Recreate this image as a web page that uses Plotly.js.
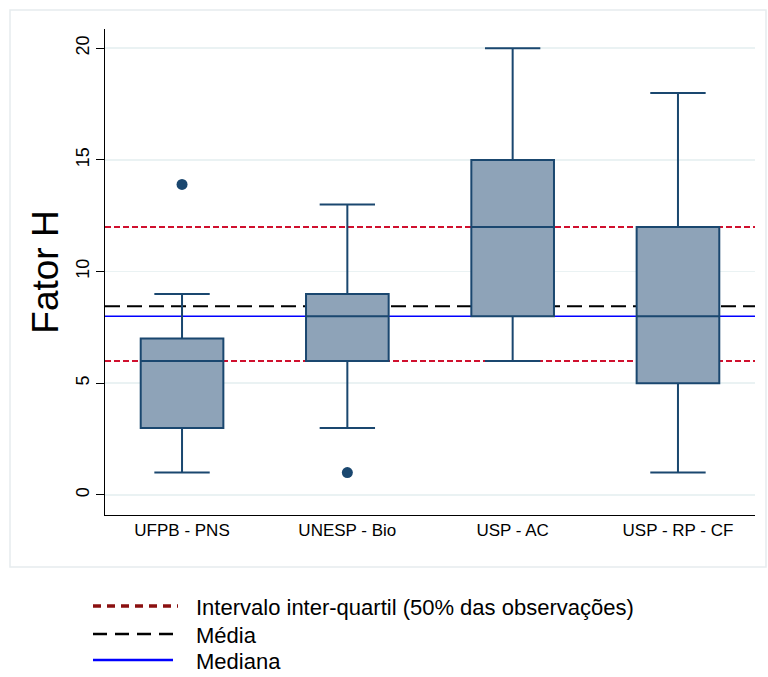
<!DOCTYPE html>
<html>
<head>
<meta charset="utf-8">
<script src="https://cdn.plot.ly/plotly-3.0.1.min.js"></script>
<style>html,body{margin:0;padding:0;background:#fff;}#chart{width:768px;height:677px;}</style>
</head>
<body>
<div id="chart"></div>
<script>
// ---- data ----
var categories = ['UFPB - PNS', 'UNESP - Bio', 'USP - AC', 'USP - RP - CF'];
var lowerWhisker = [1, 3, 6, 1];
var q1Values = [3, 6, 8, 5];
var medianValues = [6, 8, 12, 8];
var q3Values = [7, 9, 15, 12];
var upperWhisker = [9, 13, 20, 18];
var outlierCategories = ['UFPB - PNS', 'UNESP - Bio'];
var outlierValues = [13.9, 1];
var iqrLow = 6;
var iqrHigh = 12;
var overallMean = 8.45;
var overallMedian = 8;
var yTicks = [0, 5, 10, 15, 20];
var legendLabels = ['Intervalo inter-quartil (50% das observações)', 'Média', 'Mediana'];

var navy = '#1a476f';
var font = '"Liberation Sans", Arial, sans-serif';

var traces = [
  {
    type: 'box',
    x: categories,
    q1: q1Values,
    median: medianValues,
    q3: q3Values,
    lowerfence: lowerWhisker,
    upperfence: upperWhisker,
    width: 0.5,
    whiskerwidth: 0.67,
    fillcolor: '#8ea3b8',
    line: {color: navy, width: 2},
    boxpoints: false,
    hoverinfo: 'skip',
    showlegend: false
  },
  {
    type: 'scatter',
    mode: 'markers',
    x: outlierCategories,
    y: outlierValues,
    marker: {color: navy, size: 11, symbol: 'circle'},
    showlegend: false,
    hoverinfo: 'skip'
  }
];

// paper helpers (plot area: x 105..755, y 29..515)
function px(x) { return (x - 105) / 650; }
function py(y) { return (515 - y) / 486; }

var legendY = [606, 634, 660];

var shapes = [
  // outer frame
  {type: 'rect', xref: 'paper', yref: 'paper', x0: px(10), x1: px(766), y0: py(567), y1: py(10),
   line: {color: '#e6ecee', width: 1.5}, fillcolor: 'rgba(0,0,0,0)', layer: 'below'},
  // reference lines
  {type: 'line', xref: 'paper', yref: 'y', x0: 0, x1: 1, y0: iqrHigh, y1: iqrHigh,
   line: {color: '#d0102e', width: 2, dash: '6px,3px'}, layer: 'between'},
  {type: 'line', xref: 'paper', yref: 'y', x0: 0, x1: 1, y0: iqrLow, y1: iqrLow,
   line: {color: '#d0102e', width: 2, dash: '6px,3px'}, layer: 'between'},
  {type: 'line', xref: 'paper', yref: 'y', x0: 0, x1: 1, y0: overallMean, y1: overallMean,
   line: {color: '#000000', width: 2, dash: '15px,7px'}, layer: 'between'},
  {type: 'line', xref: 'paper', yref: 'y', x0: 0, x1: 1, y0: overallMedian, y1: overallMedian,
   line: {color: '#0000ff', width: 1.5}, layer: 'between'},
  // legend samples
  {type: 'line', xref: 'paper', yref: 'paper', x0: px(93), x1: px(178), y0: py(legendY[0]), y1: py(legendY[0]),
   line: {color: '#8b1010', width: 3.5, dash: '8px,6px'}},
  {type: 'line', xref: 'paper', yref: 'paper', x0: px(93), x1: px(173), y0: py(legendY[1]), y1: py(legendY[1]),
   line: {color: '#000000', width: 2.5, dash: '14px,8px'}},
  {type: 'line', xref: 'paper', yref: 'paper', x0: px(93), x1: px(173), y0: py(legendY[2]), y1: py(legendY[2]),
   line: {color: '#0000ff', width: 2.5}}
];

var annotations = legendLabels.map(function (t, i) {
  return {xref: 'paper', yref: 'paper', x: px(194), y: py(legendY[i] + 1), xanchor: 'left', yanchor: 'middle',
          text: t, showarrow: false, font: {family: font, size: 22, color: '#000'}};
});

var layout = {
  width: 768, height: 677,
  margin: {l: 105, r: 13, t: 29, b: 162},
  paper_bgcolor: '#ffffff', plot_bgcolor: '#ffffff',
  showlegend: false,
  font: {family: font, color: '#000'},
  xaxis: {
    type: 'category', range: [-0.466, 3.466],
    showgrid: false, zeroline: false,
    showline: true, linecolor: '#000', linewidth: 1,
    ticks: '', tickfont: {family: font, size: 17, color: '#000'},
    fixedrange: true
  },
  yaxis: {
    range: [-0.9, 20.86],
    tickvals: yTicks, ticktext: yTicks.map(String),
    tickangle: -90,
    showgrid: true, gridcolor: '#eaf2f3', gridwidth: 1.5,
    zeroline: false,
    showline: true, linecolor: '#000', linewidth: 1,
    ticks: 'outside', ticklen: 8, tickcolor: '#000', tickwidth: 1,
    tickfont: {family: font, size: 18, color: '#000'},
    title: {text: 'Fator H', font: {family: font, size: 37, color: '#000'}, standoff: 2},
    fixedrange: true
  },
  shapes: shapes,
  annotations: annotations
};

Plotly.newPlot('chart', traces, layout, {displayModeBar: false, staticPlot: true});
</script>
</body>
</html>
